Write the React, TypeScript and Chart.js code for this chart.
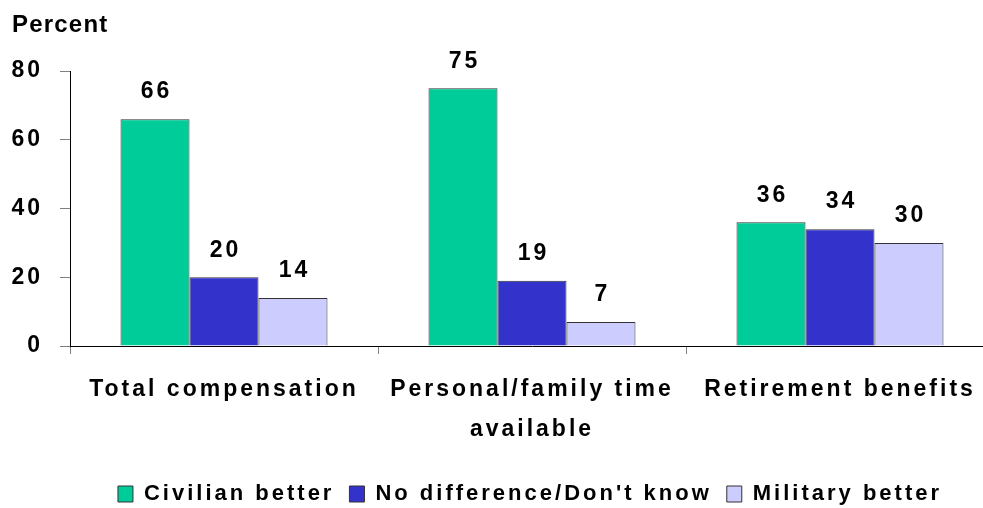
import React, { useEffect, useRef } from "react";
import { Chart, registerables } from "chart.js";

Chart.register(...registerables);

const categories: (string | string[])[] = [
  "Total compensation",
  ["Personal/family time", "available"],
  "Retirement benefits",
];
const seriesNames = ["Civilian better", "No difference/Don't know", "Military better"];
const civilianBetter = [66, 75, 36];
const noDifference = [20, 19, 34];
const militaryBetter = [14, 7, 30];
const seriesColors = ["#00CC99", "#3333CC", "#CCCCFF"];
const yTitle = "Percent";

const FONT = "'Liberation Sans', Arial, sans-serif";
const LS = "3px";

const spacingPlugin = {
  id: "spacing",
  beforeUpdate(chart: any) {
    chart.ctx.letterSpacing = LS;
  },
  afterLayout(chart: any) {
    const lg = chart.legend;
    if (lg) {
      lg.left += 33;
      lg.right += 33;
    }
  },
  beforeDraw(chart: any) {
    chart.ctx.letterSpacing = LS;
  },
};

const labelPlugin = {
  id: "barLabels",
  afterDraw(chart: any) {
    const ctx = chart.ctx;
    ctx.save();
    ctx.letterSpacing = LS;
    ctx.font = `bold 23px ${FONT}`;
    ctx.fillStyle = "#000";
    ctx.textAlign = "center";
    ctx.textBaseline = "middle";
    chart.data.datasets.forEach((ds: any, i: number) => {
      const meta = chart.getDatasetMeta(i);
      meta.data.forEach((bar: any, j: number) => {
        ctx.fillText(String(ds.data[j]), bar.x + 1.5, bar.y - 27);
      });
    });
    ctx.letterSpacing = "1.2px";
    ctx.font = `bold 24px ${FONT}`;
    ctx.textAlign = "left";
    ctx.textBaseline = "alphabetic";
    ctx.fillText(yTitle, 12, 32);
    ctx.restore();
  },
};

export default function App() {
  const ref = useRef<HTMLCanvasElement>(null);
  useEffect(() => {
    if (!ref.current) return;
    const datasets = [civilianBetter, noDifference, militaryBetter].map((d, i) => ({
      label: seriesNames[i],
      data: d,
      backgroundColor: seriesColors[i],
      borderColor: "#333333",
      borderWidth: 1,
      categoryPercentage: 0.672,
      barPercentage: 1,
    }));
    const chart = new Chart(ref.current, {
      type: "bar",
      data: { labels: categories as any, datasets },
      plugins: [spacingPlugin, labelPlugin],
      options: {
        animation: false,
        responsive: false,
        devicePixelRatio: 1,
        layout: { padding: { left: 0, right: 0, top: 71, bottom: 5 } },
        plugins: {
          legend: {
            position: "bottom",
            labels: {
              boxWidth: 15,
              boxHeight: 16,
              padding: 15,
              color: "#000",
              font: { size: 22, weight: "bold", family: FONT },
            },
          },
          tooltip: { enabled: false },
          title: { display: false },
        },
        scales: {
          x: {
            offset: true,
            afterFit: (s: any) => {
              s.height = 122;
            },
            grid: {
              offset: true,
              drawOnChartArea: false,
              tickLength: 8,
              color: "#808080",
            },
            border: { color: "#000", width: 1 },
            ticks: {
              color: "#000",
              padding: 16,
              maxRotation: 0,
              autoSkip: false,
              font: { size: 23, weight: "bold", family: FONT, lineHeight: 40 / 23 },
            },
          },
          y: {
            min: 0,
            max: 80,
            afterFit: (s: any) => {
              s.width = 70;
            },
            grid: {
              drawOnChartArea: false,
              tickLength: 10,
              color: "#808080",
            },
            border: { color: "#000", width: 1 },
            ticks: {
              stepSize: 20,
              color: "#000",
              padding: 17,
              font: { size: 23, weight: "bold", family: FONT },
            },
          },
        },
      },
    });
    return () => chart.destroy();
  }, []);
  return (
    <div style={{ position: "absolute", left: 0, top: 0, width: 983, height: 508, overflow: "hidden", background: "#fff" }}>
      <canvas ref={ref} width={994} height={520} style={{ width: 994, height: 520, display: "block" }} />
    </div>
  );
}
